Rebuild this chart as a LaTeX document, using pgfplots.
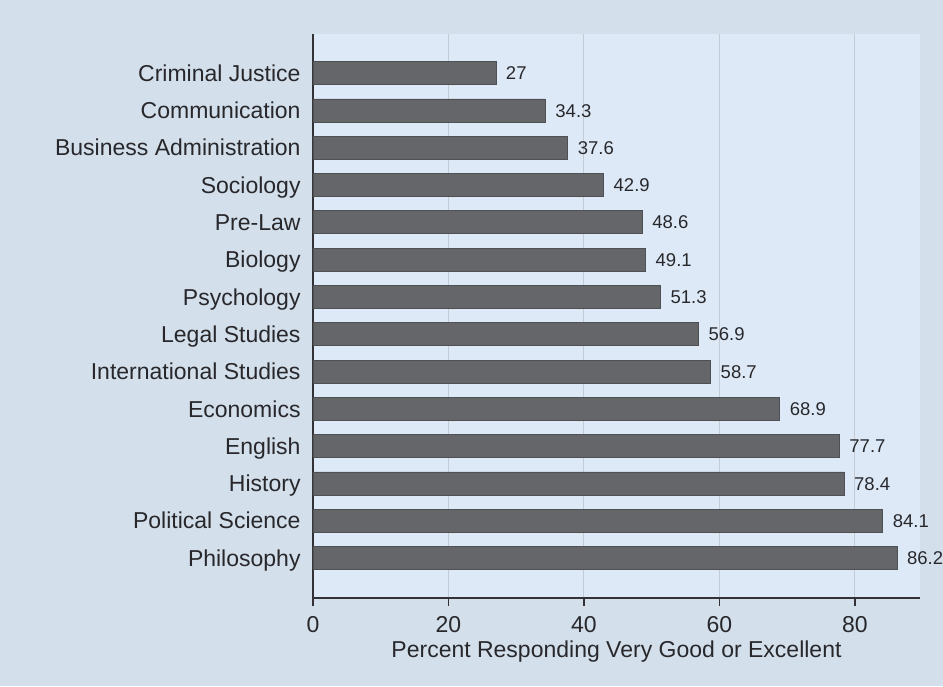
\documentclass[border=0pt]{standalone}
\usepackage{pgfplots}
\pgfplotsset{compat=1.18}
\usepackage{pgfplotstable}
\usepackage{fontspec}
\setmainfont{Liberation Sans}
\definecolor{outerbg}{RGB}{211,223,234}
\definecolor{plotbg}{RGB}{221,233,246}
\definecolor{barfill}{RGB}{100,102,106}
\definecolor{bardraw}{RGB}{78,80,84}
\definecolor{gridc}{RGB}{196,203,212}
\definecolor{axisc}{RGB}{50,50,54}
\definecolor{textc}{RGB}{40,40,44}
\pgfplotstableread{
val pos lab
86.2 1 86.2
84.1 2 84.1
78.4 3 78.4
77.7 4 77.7
68.9 5 68.9
58.7 6 58.7
56.9 7 56.9
51.3 8 51.3
49.1 9 49.1
48.6 10 48.6
42.9 11 42.9
37.6 12 37.6
34.3 13 34.3
27 14 27
}\datatable
\begin{document}
\begin{tikzpicture}
\fill[outerbg] (-156.5pt,-44pt) rectangle (315pt,299pt);
\begin{axis}[
  at={(0,0)}, anchor=south west,
  scale only axis, width=303.5pt, height=282pt,
  xmin=0, xmax=89.6, ymin=-0.072, ymax=15.05,
  axis background/.style={fill=plotbg},
  xbar, bar width=11.5pt,
  axis x line=bottom, axis y line=left,
  axis line style={-, axisc, line width=0.9pt},
  xtick={0,20,40,60,80},
  ytick={1,...,14},
  yticklabels={Philosophy,Political Science,History,English,Economics,International Studies,Legal Studies,Psychology,Biology,Pre-Law,Sociology,Business Administration,Communication,Criminal Justice},
  tick align=outside, major tick length=4pt,
  xtick style={axisc, line width=0.8pt},
  ytick style={draw=none},
  xmajorgrids, grid style={gridc, line width=0.5pt},
  ticklabel style={font=\fontsize{11.5}{13}\selectfont, text=textc},
  yticklabel style={xshift=1.3pt, text height=8.2pt, text depth=0pt},
  xticklabel style={yshift=-1.5pt},
  /pgf/number format/assume math mode=true,
  xlabel={Percent Responding Very Good or Excellent},
  xlabel style={font=\fontsize{11.5}{13}\selectfont, text=textc, yshift=2.5pt},
  nodes near coords, point meta=explicit symbolic,
  nodes near coords style={font=\fontsize{9.25}{10}\selectfont, text=textc, anchor=west, xshift=1.5pt, text height=6.6pt, text depth=0pt},
  clip=false,
]
\addplot[fill=barfill, draw=bardraw, line width=0.4pt] table[x=val, y=pos, meta=lab] {\datatable};
\end{axis}
\pgfresetboundingbox
\useasboundingbox (-156.5pt,-44pt) rectangle (315pt,299pt);
\end{tikzpicture}
\end{document}
